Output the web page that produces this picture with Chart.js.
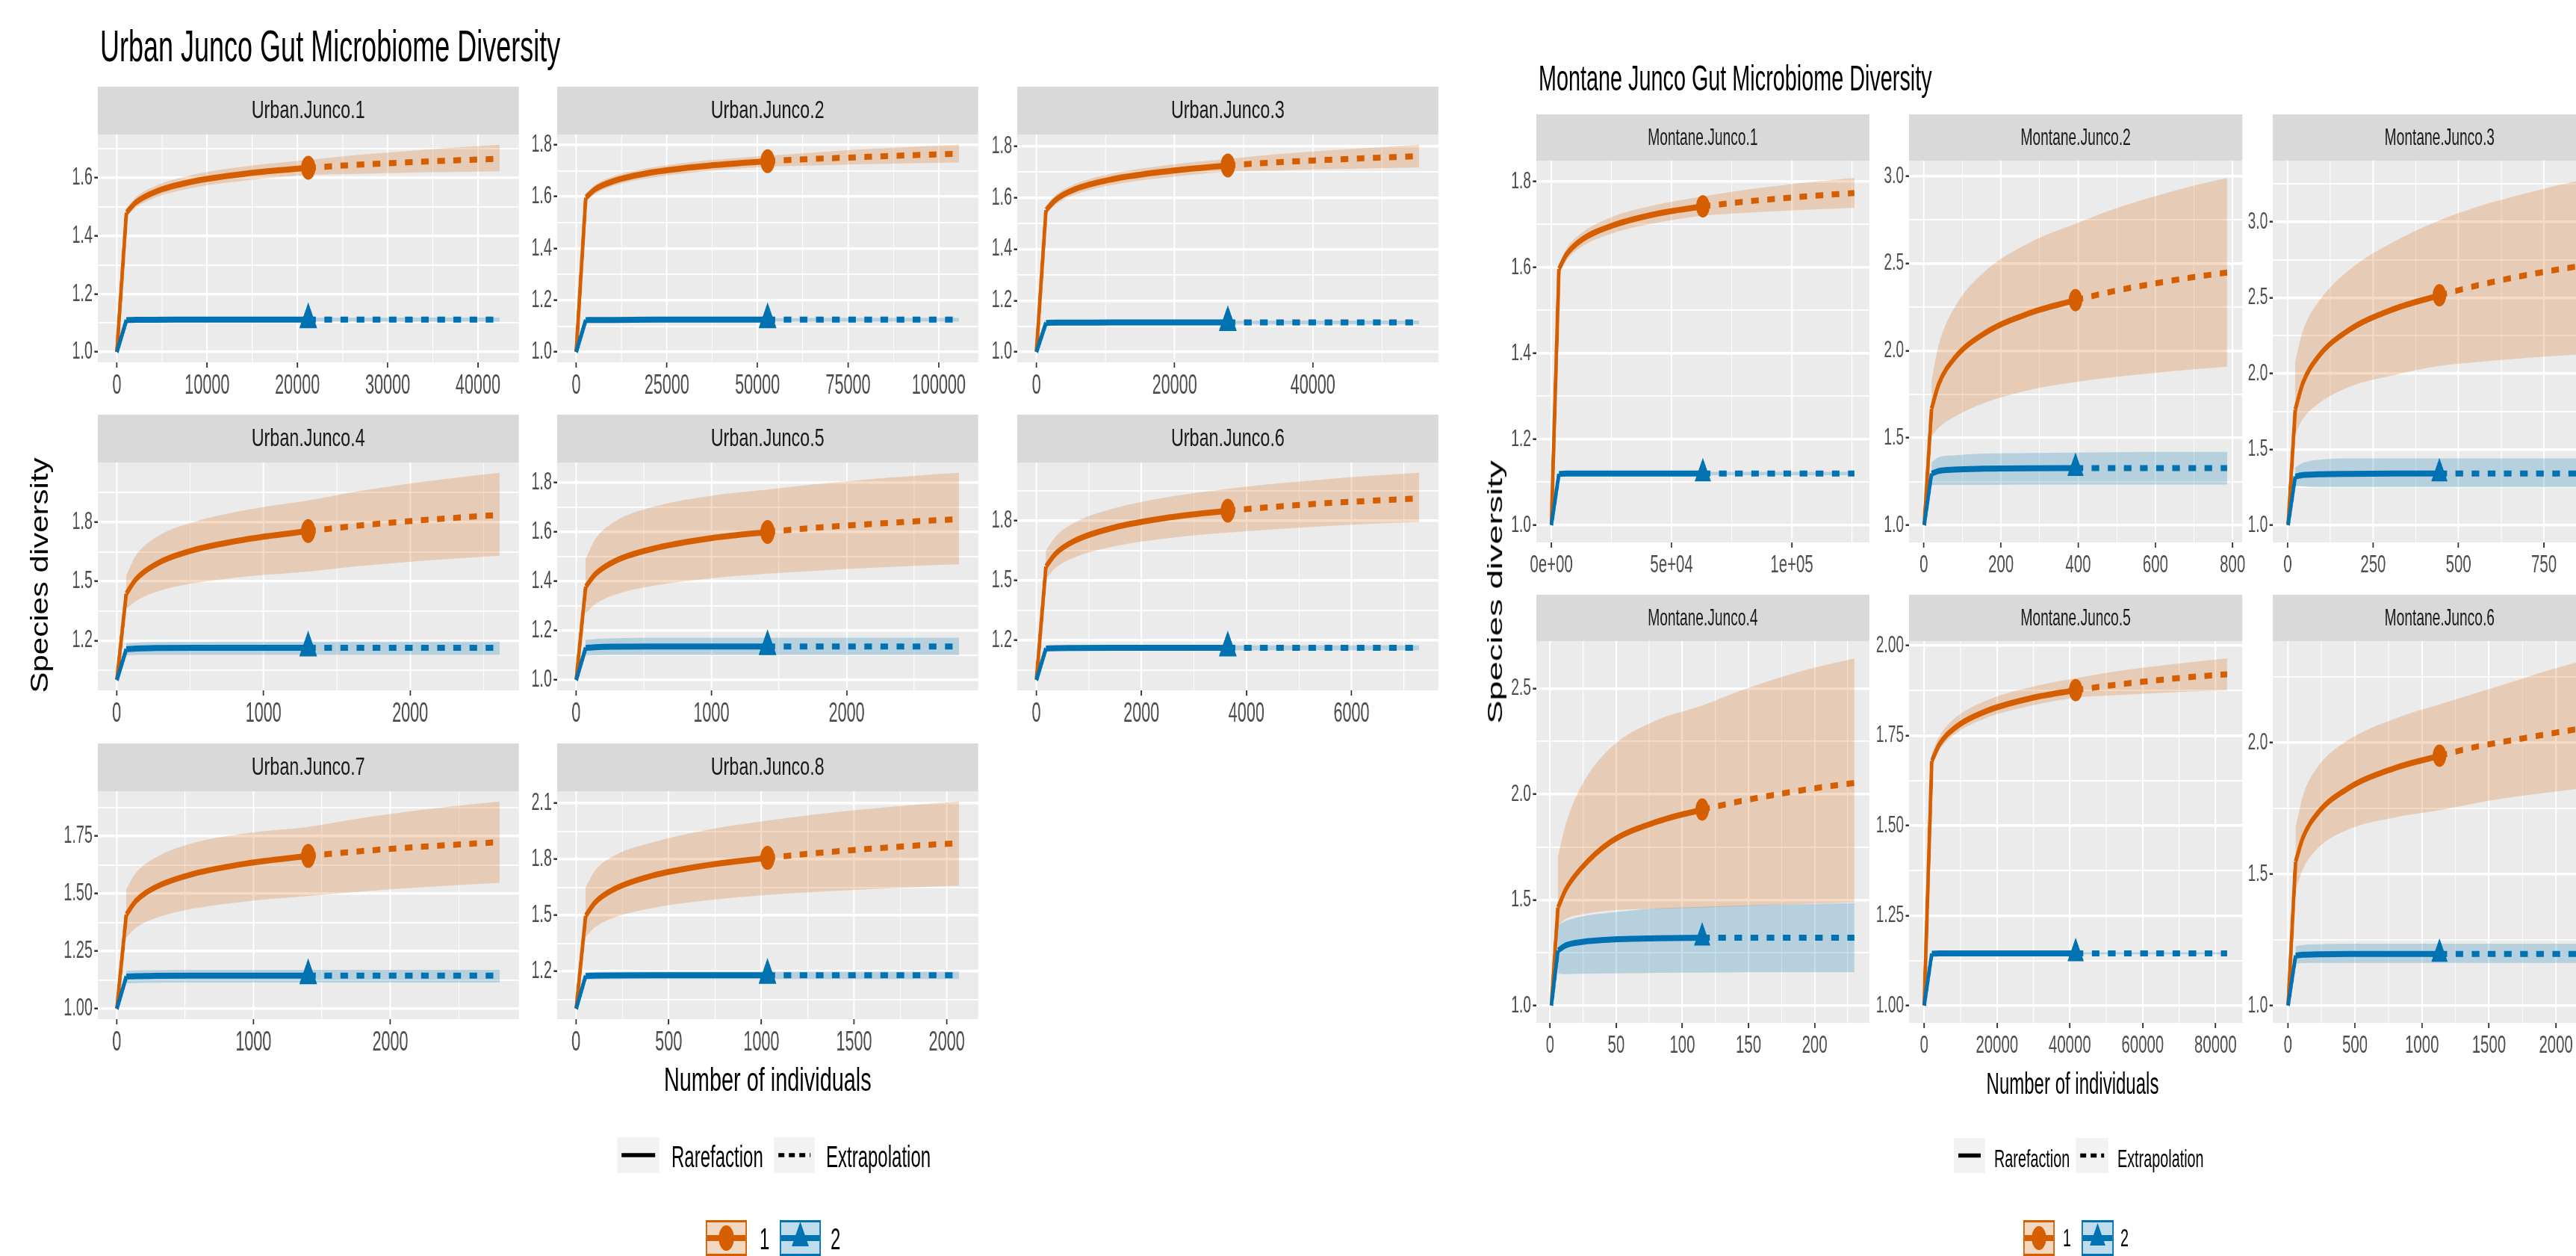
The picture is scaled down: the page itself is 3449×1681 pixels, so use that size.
<!DOCTYPE html>
<html>
<head>
<meta charset="utf-8">
<script src="https://cdn.jsdelivr.net/npm/chart.js@4.4.1/dist/chart.umd.min.js"></script>
<style>
  html, body { margin: 0; padding: 0; background: #fff; overflow: hidden; }
  #stage {
    position: absolute; left: 0; top: 0; width: 5749px; height: 1681px;
    transform-origin: 0 0; transform: scaleX(0.6); overflow: hidden;
    font-family: 'Liberation Sans', Arial, sans-serif;
  }
  .txt { position: absolute; white-space: nowrap; line-height: 1; }
</style>
</head>
<body>
<div id="stage"></div>
<script>
// ---- data -----------------------------------------------------------------
// one row per facet; knots are sample sizes, index 6 is the observed size
const panelNames = [
  'Urban.Junco.1', 'Urban.Junco.2', 'Urban.Junco.3', 'Urban.Junco.4',
  'Urban.Junco.5', 'Urban.Junco.6', 'Urban.Junco.7', 'Urban.Junco.8',
  'Montane.Junco.1', 'Montane.Junco.2', 'Montane.Junco.3',
  'Montane.Junco.4', 'Montane.Junco.5', 'Montane.Junco.6'
];

const sampleSizes = [
  [1, 1060, 2120, 4240, 8480, 14840, 21200, 26500, 31800, 37100, 42400],
  [1, 2640, 5280, 10560, 21120, 36960, 52800, 66000, 79200, 92400, 105600],
  [1, 1385, 2770, 5540, 11080, 19390, 27700, 34625, 41550, 48475, 55400],
  [1, 65, 130, 260, 520, 915, 1305, 1630, 1960, 2285, 2610],
  [1, 71, 142, 283, 566, 990, 1415, 1770, 2120, 2475, 2830],
  [1, 182, 365, 729, 1458, 2552, 3645, 4556, 5468, 6379, 7290],
  [1, 70, 140, 280, 560, 980, 1400, 1750, 2100, 2450, 2800],
  [1, 52, 103, 207, 413, 723, 1033, 1291, 1550, 1808, 2066],
  [1, 3150, 6300, 12600, 25200, 44100, 63000, 78750, 94500, 110250, 126000],
  [1, 20, 39, 79, 157, 275, 393, 491, 590, 688, 786],
  [1, 22, 44, 89, 178, 311, 444, 555, 666, 777, 888],
  [1, 6, 12, 23, 46, 81, 115, 144, 173, 201, 230],
  [1, 2080, 4160, 8320, 16640, 29120, 41600, 52000, 62400, 72800, 83200],
  [1, 57, 113, 226, 452, 792, 1131, 1414, 1697, 1979, 2262]
];

// order q = 1 (orange)
const q1Mean = [
  [1, 1.48, 1.516, 1.552, 1.588, 1.617, 1.635, 1.645, 1.653, 1.660, 1.666],
  [1, 1.596, 1.629, 1.661, 1.694, 1.720, 1.737, 1.746, 1.753, 1.760, 1.766],
  [1, 1.551, 1.591, 1.632, 1.672, 1.704, 1.725, 1.737, 1.746, 1.754, 1.761],
  [1, 1.437, 1.51, 1.584, 1.658, 1.717, 1.755, 1.781, 1.803, 1.821, 1.837],
  [1, 1.377, 1.428, 1.480, 1.531, 1.573, 1.599, 1.616, 1.629, 1.641, 1.651],
  [1, 1.569, 1.634, 1.699, 1.764, 1.817, 1.85, 1.870, 1.887, 1.900, 1.912],
  [1, 1.409, 1.468, 1.527, 1.586, 1.634, 1.664, 1.683, 1.699, 1.712, 1.724],
  [1, 1.497, 1.569, 1.641, 1.713, 1.771, 1.808, 1.833, 1.854, 1.872, 1.887],
  [1, 1.596, 1.630, 1.664, 1.697, 1.725, 1.742, 1.752, 1.760, 1.767, 1.773],
  [1, 1.666, 1.810, 1.955, 2.099, 2.216, 2.29, 2.341, 2.382, 2.418, 2.448],
  [1, 1.761, 1.935, 2.11, 2.285, 2.426, 2.516, 2.581, 2.635, 2.681, 2.72],
  [1, 1.463, 1.55, 1.645, 1.775, 1.87, 1.927, 1.967, 2.0, 2.029, 2.053],
  [1, 1.679, 1.725, 1.770, 1.816, 1.853, 1.876, 1.890, 1.902, 1.912, 1.920],
  [1, 1.547, 1.640, 1.734, 1.827, 1.902, 1.95, 1.985, 2.011, 2.036, 2.06]
];
const q1Lower = [
  [1, 1.465, 1.498, 1.532, 1.566, 1.593, 1.610, 1.614, 1.618, 1.620, 1.623],
  [1, 1.58, 1.611, 1.643, 1.674, 1.699, 1.715, 1.720, 1.725, 1.729, 1.732],
  [1, 1.535, 1.573, 1.611, 1.650, 1.680, 1.700, 1.705, 1.710, 1.714, 1.717],
  [1, 1.36, 1.40, 1.445, 1.49, 1.527, 1.55, 1.576, 1.597, 1.615, 1.63],
  [1, 1.27, 1.307, 1.344, 1.381, 1.411, 1.43, 1.442, 1.452, 1.461, 1.468],
  [1, 1.51, 1.563, 1.616, 1.670, 1.713, 1.74, 1.757, 1.772, 1.784, 1.794],
  [1, 1.31, 1.352, 1.393, 1.435, 1.469, 1.49, 1.508, 1.523, 1.536, 1.547],
  [1, 1.385, 1.437, 1.489, 1.540, 1.582, 1.609, 1.625, 1.638, 1.649, 1.659],
  [1, 1.585, 1.616, 1.648, 1.679, 1.704, 1.72, 1.726, 1.731, 1.735, 1.739],
  [1, 1.51, 1.56, 1.62, 1.70, 1.775, 1.82, 1.848, 1.871, 1.891, 1.908],
  [1, 1.60, 1.70, 1.80, 1.91, 1.99, 2.05, 2.076, 2.097, 2.115, 2.13],
  [1, 1.38, 1.41, 1.43, 1.45, 1.458, 1.463, 1.47, 1.477, 1.483, 1.488],
  [1, 1.665, 1.709, 1.753, 1.797, 1.832, 1.855, 1.862, 1.867, 1.872, 1.876],
  [1, 1.441, 1.52, 1.60, 1.67, 1.715, 1.743, 1.771, 1.794, 1.813, 1.83]
];
const q1Upper = [
  [1, 1.495, 1.534, 1.572, 1.611, 1.642, 1.662, 1.679, 1.692, 1.704, 1.714],
  [1, 1.612, 1.646, 1.680, 1.713, 1.741, 1.758, 1.771, 1.783, 1.792, 1.80],
  [1, 1.567, 1.609, 1.652, 1.694, 1.728, 1.750, 1.768, 1.782, 1.794, 1.805],
  [1, 1.53, 1.63, 1.72, 1.80, 1.866, 1.91, 1.955, 1.992, 2.023, 2.05],
  [1, 1.49, 1.57, 1.64, 1.70, 1.745, 1.77, 1.792, 1.81, 1.825, 1.838],
  [1, 1.65, 1.72, 1.79, 1.86, 1.92, 1.96, 1.986, 2.007, 2.025, 2.04],
  [1, 1.52, 1.59, 1.655, 1.72, 1.765, 1.79, 1.825, 1.854, 1.879, 1.90],
  [1, 1.65, 1.74, 1.82, 1.89, 1.96, 2.007, 2.04, 2.067, 2.09, 2.109],
  [1, 1.607, 1.644, 1.680, 1.717, 1.746, 1.765, 1.779, 1.790, 1.800, 1.808],
  [1, 1.83, 2.037, 2.245, 2.452, 2.62, 2.727, 2.811, 2.88, 2.94, 2.99],
  [1, 2.08, 2.28, 2.47, 2.68, 2.87, 3.01, 3.10, 3.17, 3.235, 3.29],
  [1, 1.707, 1.86, 2.03, 2.22, 2.35, 2.419, 2.49, 2.55, 2.60, 2.642],
  [1, 1.70, 1.748, 1.797, 1.845, 1.884, 1.909, 1.927, 1.941, 1.953, 1.964],
  [1, 1.676, 1.80, 1.91, 2.01, 2.09, 2.145, 2.19, 2.235, 2.28, 2.32]
];

// order q = 2 (blue)
const q2Mean = [
  [1, 1.11, 1.111, 1.111, 1.112, 1.112, 1.112, 1.112, 1.112, 1.112, 1.112],
  [1, 1.123, 1.124, 1.124, 1.125, 1.125, 1.125, 1.125, 1.125, 1.125, 1.125],
  [1, 1.113, 1.114, 1.114, 1.115, 1.115, 1.115, 1.115, 1.115, 1.115, 1.115],
  [1, 1.156, 1.160, 1.162, 1.163, 1.163, 1.163, 1.163, 1.163, 1.163, 1.163],
  [1, 1.130, 1.133, 1.135, 1.136, 1.136, 1.136, 1.136, 1.136, 1.136, 1.136],
  [1, 1.158, 1.160, 1.161, 1.162, 1.162, 1.162, 1.162, 1.162, 1.162, 1.162],
  [1, 1.140, 1.142, 1.143, 1.144, 1.144, 1.144, 1.144, 1.144, 1.144, 1.144],
  [1, 1.176, 1.178, 1.179, 1.18, 1.18, 1.18, 1.18, 1.18, 1.18, 1.18],
  [1, 1.119, 1.12, 1.12, 1.12, 1.12, 1.12, 1.12, 1.12, 1.12, 1.12],
  [1, 1.295, 1.31, 1.318, 1.323, 1.326, 1.327, 1.327, 1.327, 1.327, 1.327],
  [1, 1.32, 1.33, 1.335, 1.338, 1.34, 1.34, 1.34, 1.34, 1.34, 1.34],
  [1, 1.26, 1.285, 1.30, 1.312, 1.318, 1.321, 1.321, 1.321, 1.321, 1.321],
  [1, 1.144, 1.145, 1.145, 1.145, 1.145, 1.145, 1.145, 1.145, 1.145, 1.145],
  [1, 1.19, 1.193, 1.195, 1.196, 1.196, 1.196, 1.196, 1.196, 1.196, 1.196]
];
const q2Lower = [
  [1, 1.104, 1.105, 1.105, 1.106, 1.106, 1.106, 1.106, 1.105, 1.105, 1.105],
  [1, 1.117, 1.118, 1.118, 1.119, 1.119, 1.119, 1.118, 1.118, 1.118, 1.118],
  [1, 1.107, 1.108, 1.108, 1.109, 1.109, 1.109, 1.108, 1.108, 1.108, 1.108],
  [1, 1.125, 1.127, 1.128, 1.128, 1.128, 1.128, 1.128, 1.128, 1.128, 1.128],
  [1, 1.098, 1.10, 1.101, 1.101, 1.101, 1.101, 1.101, 1.101, 1.101, 1.101],
  [1, 1.146, 1.148, 1.149, 1.150, 1.150, 1.150, 1.150, 1.150, 1.150, 1.150],
  [1, 1.11, 1.112, 1.113, 1.114, 1.114, 1.114, 1.114, 1.114, 1.114, 1.114],
  [1, 1.156, 1.158, 1.159, 1.16, 1.16, 1.16, 1.16, 1.16, 1.16, 1.16],
  [1, 1.115, 1.116, 1.116, 1.116, 1.116, 1.116, 1.116, 1.116, 1.116, 1.116],
  [1, 1.23, 1.23, 1.23, 1.23, 1.232, 1.232, 1.232, 1.232, 1.232, 1.232],
  [1, 1.26, 1.255, 1.25, 1.25, 1.25, 1.25, 1.25, 1.25, 1.25, 1.25],
  [1, 1.15, 1.148, 1.15, 1.152, 1.155, 1.156, 1.157, 1.158, 1.158, 1.158],
  [1, 1.141, 1.142, 1.142, 1.142, 1.142, 1.142, 1.142, 1.142, 1.142, 1.142],
  [1, 1.16, 1.161, 1.162, 1.162, 1.162, 1.162, 1.162, 1.162, 1.162, 1.162]
];
const q2Upper = [
  [1, 1.116, 1.117, 1.117, 1.118, 1.118, 1.118, 1.118, 1.119, 1.119, 1.119],
  [1, 1.129, 1.130, 1.130, 1.131, 1.131, 1.131, 1.132, 1.132, 1.132, 1.132],
  [1, 1.119, 1.12, 1.12, 1.121, 1.121, 1.121, 1.122, 1.122, 1.122, 1.122],
  [1, 1.186, 1.19, 1.193, 1.194, 1.195, 1.195, 1.195, 1.195, 1.195, 1.195],
  [1, 1.162, 1.166, 1.169, 1.171, 1.171, 1.171, 1.171, 1.171, 1.171, 1.171],
  [1, 1.170, 1.172, 1.173, 1.174, 1.174, 1.174, 1.174, 1.174, 1.174, 1.174],
  [1, 1.165, 1.167, 1.168, 1.169, 1.169, 1.169, 1.169, 1.169, 1.169, 1.169],
  [1, 1.196, 1.198, 1.199, 1.20, 1.20, 1.20, 1.20, 1.20, 1.20, 1.20],
  [1, 1.123, 1.124, 1.124, 1.124, 1.124, 1.124, 1.124, 1.124, 1.124, 1.124],
  [1, 1.36, 1.39, 1.40, 1.41, 1.414, 1.416, 1.418, 1.42, 1.42, 1.42],
  [1, 1.38, 1.41, 1.43, 1.44, 1.44, 1.44, 1.44, 1.44, 1.44, 1.44],
  [1, 1.38, 1.40, 1.42, 1.44, 1.46, 1.467, 1.473, 1.478, 1.481, 1.484],
  [1, 1.147, 1.148, 1.148, 1.148, 1.148, 1.148, 1.148, 1.148, 1.148, 1.148],
  [1, 1.225, 1.23, 1.233, 1.235, 1.235, 1.235, 1.235, 1.235, 1.235, 1.235]
];

const xTickLabels = [
  ['0', '10000', '20000', '30000', '40000'],
  ['0', '25000', '50000', '75000', '100000'],
  ['0', '20000', '40000'],
  ['0', '1000', '2000'],
  ['0', '1000', '2000'],
  ['0', '2000', '4000', '6000'],
  ['0', '1000', '2000'],
  ['0', '500', '1000', '1500', '2000'],
  ['0e+00', '5e+04', '1e+05'],
  ['0', '200', '400', '600', '800'],
  ['0', '250', '500', '750'],
  ['0', '50', '100', '150', '200'],
  ['0', '20000', '40000', '60000', '80000'],
  ['0', '500', '1000', '1500', '2000']
];
const yTickLabels = [
  ['1.0', '1.2', '1.4', '1.6'],
  ['1.0', '1.2', '1.4', '1.6', '1.8'],
  ['1.0', '1.2', '1.4', '1.6', '1.8'],
  ['1.2', '1.5', '1.8'],
  ['1.0', '1.2', '1.4', '1.6', '1.8'],
  ['1.2', '1.5', '1.8'],
  ['1.00', '1.25', '1.50', '1.75'],
  ['1.2', '1.5', '1.8', '2.1'],
  ['1.0', '1.2', '1.4', '1.6', '1.8'],
  ['1.0', '1.5', '2.0', '2.5', '3.0'],
  ['1.0', '1.5', '2.0', '2.5', '3.0'],
  ['1.0', '1.5', '2.0', '2.5'],
  ['1.00', '1.25', '1.50', '1.75', '2.00'],
  ['1.0', '1.5', '2.0']
];

const OBS = 6;   // index of the observed sample size in each knot row

// ---- layout (picture px; the stage is squeezed horizontally by S) ---------
const S = 0.6;
const U = v => v / S;
const AX = 60, RP = 20, XH = 64;
const ORANGE = '#D55E00', BLUE = '#0072B2';
const ORANGE_BAND = 'rgba(213,94,0,0.22)', BLUE_BAND = 'rgba(0,114,178,0.22)';
const FONT = "'Liberation Sans', Arial, sans-serif";

const URBAN = {
  cols: [131, 746, 1362], rows: [116, 555, 995], pw: 564, ph: 305, sh: 64,
  stripSize: 33, stripStretch: 1.18, xFont: 36, yFont: 33, circleR: 16, triR: 23
};
const MONTANE = {
  cols: [2057, 2556, 3043], rows: [153, 796], pw: 446, ph: 511, sh: 62,
  stripSize: 32, stripStretch: 1.0, xFont: 34, yFont: 32, circleR: 15, triR: 21
};

const stage = document.getElementById('stage');

const facetStrip = {
  id: 'facetStrip',
  beforeDraw(chart, args, opts) {
    const { ctx, chartArea: a } = chart;
    ctx.save();
    ctx.fillStyle = '#EBEBEB';
    ctx.fillRect(a.left, a.top, a.right - a.left, a.bottom - a.top);
    ctx.fillStyle = '#D9D9D9';
    ctx.fillRect(a.left, a.top - opts.height, a.right - a.left, opts.height);
    ctx.fillStyle = '#1A1A1A';
    ctx.font = `${opts.size}px ${FONT}`;
    ctx.textAlign = 'center';
    ctx.textBaseline = 'middle';
    ctx.translate((a.left + a.right) / 2, a.top - opts.height / 2 + 1);
    ctx.scale(opts.stretch, 1);
    ctx.fillText(opts.text, 0, 0);
    ctx.restore();
  }
};

function tickList(labels, min, max) {
  const vals = labels.map(parseFloat);
  const step = vals[1] - vals[0];
  const list = labels.map((l, k) => ({ value: vals[k], text: l }));
  [vals[0] - step / 2, ...vals.map(v => v + step / 2)].forEach(v => {
    if (v > min && v < max) list.push({ value: v, text: '', minor: true });
  });
  return list.sort((a, b) => a.value - b.value);
}

function points(xs, ys, from, to) {
  return xs.slice(from, to).map((x, k) => ({ x, y: ys[from + k] }));
}

function buildPanel(i) {
  const urban = i < 8;
  const g = urban ? URBAN : MONTANE;
  const j = urban ? i : i - 8;
  const px = g.cols[j % 3], top = g.rows[Math.floor(j / 3)];
  const w = Math.round(U(AX + g.pw + RP)), h = g.sh + g.ph + XH;

  const cv = document.createElement('canvas');
  cv.width = w; cv.height = h;
  cv.style.cssText = `position:absolute;left:${U(px - AX)}px;top:${top}px;width:${w}px;height:${h}px`;
  stage.appendChild(cv);

  const xs = sampleSizes[i];
  const last = xs.length;
  const n2 = xs[last - 1];
  const xMin = 1 - 0.05 * (n2 - 1), xMax = n2 + 0.05 * (n2 - 1);
  const allY = [].concat(q1Lower[i], q1Upper[i], q2Lower[i], q2Upper[i], q1Mean[i], q2Mean[i]);
  const yLo = Math.min(...allY), yHi = Math.max(...allY), yPad = 0.05 * (yHi - yLo);
  const yMin = yLo - yPad, yMax = yHi + yPad;
  const xTicks = tickList(xTickLabels[i], xMin, xMax);
  const yTicks = tickList(yTickLabels[i], yMin, yMax);

  // the ribbon is drawn from the first rarefaction knot on
  const band = (ys, color, fill) => ({
    data: points(xs, ys, 1, last), borderWidth: 0, pointRadius: 0,
    backgroundColor: color, fill: fill, cubicInterpolationMode: 'monotone', order: 10
  });
  const curve = (ys, color, from, to, dash, order, smooth) => ({
    data: points(xs, ys, from, to), borderColor: color, borderWidth: 8,
    borderDash: dash, borderCapStyle: 'butt', borderJoinStyle: 'round',
    pointRadius: 0, fill: false, tension: 0,
    cubicInterpolationMode: smooth ? 'monotone' : 'default', order: order
  });
  const marker = (ys, color, style, r) => ({
    data: [{ x: xs[OBS], y: ys[OBS] }], showLine: false, pointStyle: style,
    pointRadius: r, pointBackgroundColor: color, pointBorderWidth: 0, order: 1
  });

  const DASH = [17, 19];
  const datasets = [
    band(q1Lower[i], 'rgba(0,0,0,0)', false),
    band(q1Upper[i], ORANGE_BAND, '-1'),
    band(q2Lower[i], 'rgba(0,0,0,0)', false),
    band(q2Upper[i], BLUE_BAND, '-1'),
    curve(q1Mean[i], ORANGE, 0, 2, [], 6, false),
    curve(q1Mean[i], ORANGE, 1, OBS + 1, [], 6, true),
    curve(q1Mean[i], ORANGE, OBS, last, DASH, 6, true),
    curve(q2Mean[i], BLUE, 0, 2, [], 5, false),
    curve(q2Mean[i], BLUE, 1, OBS + 1, [], 5, true),
    curve(q2Mean[i], BLUE, OBS, last, DASH, 5, true),
    marker(q1Mean[i], ORANGE, 'circle', g.circleR),
    marker(q2Mean[i], BLUE, 'triangle', g.triR)
  ];

  const gridOf = (tickLen, tickW) => ({
    color: '#FFFFFF',
    lineWidth: c => (c.tick && c.tick.minor) ? 1.7 : 3.4,
    drawTicks: true,
    tickLength: tickLen,
    tickWidth: tickW,
    tickColor: c => (c.tick && c.tick.minor) ? 'rgba(0,0,0,0)' : '#333333'
  });

  new Chart(cv, {
    type: 'line',
    data: { datasets },
    options: {
      responsive: false,
      devicePixelRatio: 1,
      animation: false,
      events: [],
      layout: { padding: { top: g.sh, right: U(RP), left: 0, bottom: 0 } },
      plugins: {
        legend: { display: false },
        tooltip: { enabled: false },
        facetStrip: { text: panelNames[i], height: g.sh, size: g.stripSize, stretch: g.stripStretch }
      },
      scales: {
        x: {
          type: 'linear', min: xMin, max: xMax,
          afterBuildTicks: ax => { ax.ticks = xTicks.map(t => Object.assign({}, t)); },
          afterFit: s => { s.height = XH; s.paddingLeft = 0; s.paddingRight = 0; },
          grid: gridOf(7, 3),
          border: { display: false },
          ticks: {
            autoSkip: false, maxRotation: 0, minRotation: 0, padding: 3,
            color: '#4D4D4D', font: { size: g.xFont, family: FONT },
            callback: (v, k, t) => t[k].text || ''
          }
        },
        y: {
          type: 'linear', min: yMin, max: yMax,
          afterBuildTicks: ax => { ax.ticks = yTicks.map(t => Object.assign({}, t)); },
          afterFit: s => { s.width = U(AX); s.paddingTop = 0; s.paddingBottom = 0; },
          grid: gridOf(U(4.5), 2.5),
          border: { display: false },
          ticks: {
            autoSkip: false, padding: 4,
            color: '#4D4D4D', font: { size: g.yFont, family: FONT },
            callback: (v, k, t) => t[k].text || ''
          }
        }
      }
    },
    plugins: [facetStrip]
  });
}

// ---- text and legends ------------------------------------------------------
function addText(str, x, baseline, size, opts) {
  const o = Object.assign({ align: 'left', color: '#000', stretch: 1 }, opts);
  const d = document.createElement('div');
  d.className = 'txt';
  d.textContent = str;
  d.style.fontSize = size + 'px';
  d.style.color = o.color;
  d.style.top = (baseline - 0.8465 * size) + 'px';
  if (o.align === 'center') {
    d.style.left = (U(x) - 1500) + 'px';
    d.style.width = '3000px';
    d.style.textAlign = 'center';
    d.style.transformOrigin = '50% 50%';
  } else {
    d.style.left = U(x) + 'px';
    d.style.transformOrigin = '0 0';
  }
  if (o.stretch !== 1) d.style.transform = `scaleX(${o.stretch})`;
  stage.appendChild(d);
}

function addVerticalTitle(str, cx, cy, size, thick) {
  const d = document.createElement('div');
  d.className = 'txt';
  d.textContent = str;
  d.style.fontSize = size + 'px';
  d.style.lineHeight = size + 'px';
  d.style.width = '1000px';
  d.style.textAlign = 'center';
  d.style.left = (U(cx) - 500) + 'px';
  d.style.top = (cy - size / 2) + 'px';
  d.style.transform = `rotate(-90deg) scaleY(${thick})`;
  d.style.transformOrigin = '50% 50%';
  stage.appendChild(d);
}

function addKey(x, y, w, h, body) {
  const W = U(w);
  stage.insertAdjacentHTML('beforeend',
    `<svg width="${W}" height="${h}" style="position:absolute;left:${U(x)}px;top:${y}px">${body(W, h)}</svg>`);
}

const lineKey = dash => (W, H) =>
  `<rect width="${W}" height="${H}" fill="#F2F2F2"/>` +
  `<line x1="${U(6)}" x2="${W - U(6)}" y1="${H / 2}" y2="${H / 2}" stroke="#000" stroke-width="5.5"` +
  (dash ? ` stroke-dasharray="${U(8)} ${U(6)}"` : '') + '/>';

const groupKey = (color, fill, shape, r) => (W, H) => {
  const cx = W / 2, cy = H / 2;
  const mark = shape === 'circle'
    ? `<circle cx="${cx}" cy="${cy}" r="${r}" fill="${color}"/>`
    : `<polygon points="${cx},${cy - r} ${cx + r * 0.866},${cy + r / 2} ${cx - r * 0.866},${cy + r / 2}" fill="${color}"/>`;
  return `<rect x="1.5" y="1.5" width="${W - 3}" height="${H - 3}" fill="${fill}" stroke="${color}" stroke-width="3"/>` +
    `<line x1="3" x2="${W - 3}" y1="${cy}" y2="${cy}" stroke="${color}" stroke-width="8"/>` + mark;
};

function drawPage() {
  for (let i = 0; i < panelNames.length; i++) buildPanel(i);

  // urban side
  addText('Urban Junco Gut Microbiome Diversity', 134, 83, 60);
  addText('Number of individuals', 1028, 1460, 45, { align: 'center', stretch: 1.07 });
  addVerticalTitle('Species diversity', 53, 770, 42, 1.3);
  addKey(826, 1522, 57, 48, lineKey(false));
  addText('Rarefaction', 899, 1562, 40);
  addKey(1036, 1522, 55, 48, lineKey(true));
  addText('Extrapolation', 1106, 1562, 40);
  addKey(945, 1633, 55, 48, groupKey(ORANGE, 'rgba(213,94,0,0.25)', 'circle', 17));
  addText('1', 1017, 1672, 40);
  addKey(1044, 1633, 55, 48, groupKey(BLUE, 'rgba(0,114,178,0.25)', 'triangle', 22));
  addText('2', 1112, 1672, 40);

  // montane side
  addText('Montane Junco Gut Microbiome Diversity', 2060, 122, 48);
  addText('Number of individuals', 2775, 1464, 40, { align: 'center' });
  addVerticalTitle('Species diversity', 2001, 792, 47, 1.0);
  addKey(2616, 1523, 42, 47, lineKey(false));
  addText('Rarefaction', 2670, 1562, 33);
  addKey(2779, 1523, 44, 47, lineKey(true));
  addText('Extrapolation', 2835, 1562, 33);
  addKey(2709, 1633, 42, 48, groupKey(ORANGE, 'rgba(213,94,0,0.25)', 'circle', 16));
  addText('1', 2762, 1668, 33);
  addKey(2787, 1633, 43, 48, groupKey(BLUE, 'rgba(0,114,178,0.25)', 'triangle', 20));
  addText('2', 2839, 1668, 33);
}

drawPage();
</script>
</body>
</html>
